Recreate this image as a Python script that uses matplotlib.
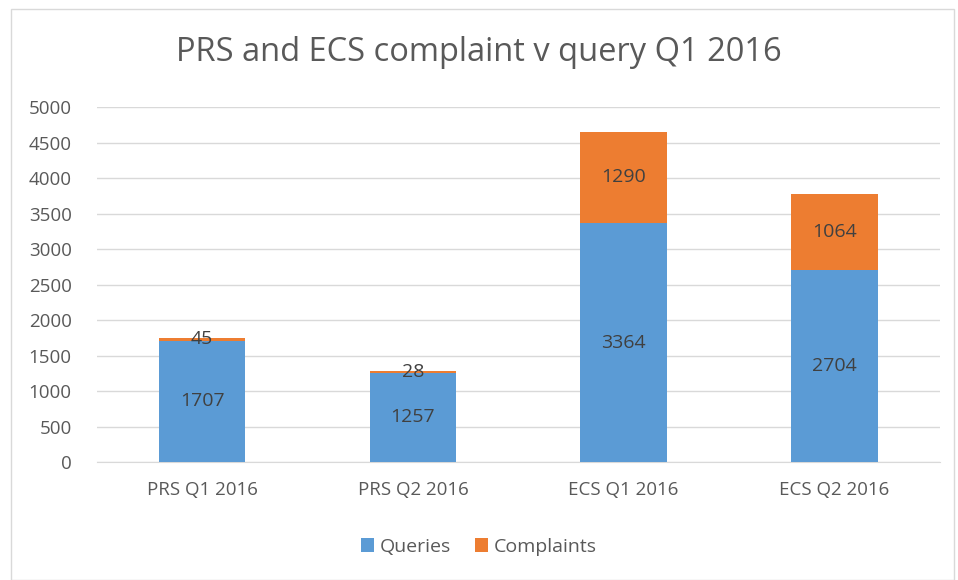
import numpy as np
import matplotlib.pyplot as plt
from matplotlib.patches import Rectangle

categorias = ['PRS Q1 2016', 'PRS Q2 2016', 'ECS Q1 2016', 'ECS Q2 2016']
queries = [1707, 1257, 3364, 2704]
complaints = [45, 28, 1290, 1064]

plt.rcParams['font.family'] = ['Open Sans', 'DejaVu Sans']
gris = '#595959'

fig = plt.figure(figsize=(9.58, 5.8), dpi=100)
ax = fig.add_axes([0.101, 0.2034, 0.88, 0.6121])

x = np.arange(len(categorias))
ancho = 0.41
b1 = ax.bar(x, queries, ancho, color='#5B9BD5', label='Queries', zorder=3)
b2 = ax.bar(x, complaints, ancho, bottom=queries, color='#ED7D31', label='Complaints', zorder=3)

for i in range(len(categorias)):
    ax.text(x[i], queries[i] / 2, str(queries[i]), ha='center', va='center',
            fontsize=14, color='#404040', zorder=4)
    ax.text(x[i], queries[i] + complaints[i] / 2, str(complaints[i]), ha='center', va='center',
            fontsize=14, color='#404040', zorder=4)

ax.set_xlim(-0.5, 3.5)
ax.set_ylim(0, 5000)
ax.set_yticks(np.arange(0, 5001, 500))
ax.set_xticks(x)
ax.set_xticklabels(categorias)
ax.tick_params(axis='both', length=0, labelsize=13.5, labelcolor=gris)
ax.tick_params(axis='y', pad=18)
ax.tick_params(axis='x', pad=14)
ax.grid(axis='y', color='#D9D9D9', linewidth=1, zorder=0)
for s in ['top', 'right', 'left']:
    ax.spines[s].set_visible(False)
ax.spines['bottom'].set_color('#D9D9D9')

fig.text(0.5, 0.91, 'PRS and ECS complaint v query Q1 2016', ha='center', va='center',
         fontsize=23.5, color=gris)

fig.legend(handles=[b1, b2], loc='center', bbox_to_anchor=(0.5, 0.057), ncol=2,
           frameon=False, fontsize=14, labelcolor=gris, handlelength=0.7,
           handleheight=0.7, handletextpad=0.3, columnspacing=1.2)

fig.patches.append(Rectangle((0.011, 0.0), 0.985, 0.985, transform=fig.transFigure,
                             fill=False, edgecolor='#D9D9D9', linewidth=1))

fig.savefig('out.png', dpi=100)
